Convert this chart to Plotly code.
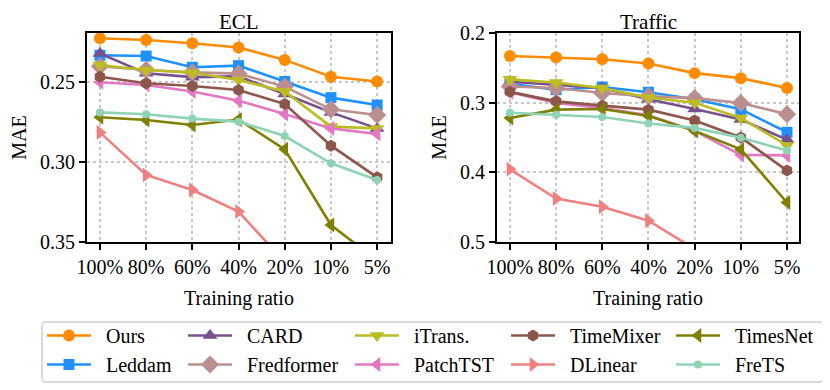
#!/usr/bin/env python3
# -*- coding: utf-8 -*-
"""
MAE vs training ratio on ECL and Traffic, two panels with a shared legend.
"""

import plotly.graph_objects as go

# Categories on the x axis
ratios = ["100%", "80%", "60%", "40%", "20%", "10%", "5%"]

# Series names, in plotting (and legend column) order
models = ["Ours", "Leddam", "CARD", "Fredformer", "iTrans.",
          "PatchTST", "TimeMixer", "DLinear", "TimesNet", "FreTS"]

# ECL - MAE
ecl_ours = [0.2227, 0.2238, 0.2258, 0.2285, 0.2362, 0.2467, 0.2497]
ecl_leddam = [0.2333, 0.2338, 0.2408, 0.2398, 0.2497, 0.2598, 0.2644]
ecl_card = [0.2322, 0.2446, 0.2470, 0.2465, 0.2575, 0.2690, 0.2790]
ecl_fredformer = [0.2402, 0.2425, 0.2440, 0.2448, 0.2529, 0.2671, 0.2706]
ecl_itrans = [0.2394, 0.2425, 0.2442, 0.2488, 0.2560, 0.2779, 0.2790]
ecl_patchtst = [0.2502, 0.2519, 0.2560, 0.2617, 0.2700, 0.2790, 0.2825]
ecl_timemixer = [0.2467, 0.2508, 0.2525, 0.2550, 0.2638, 0.2898, 0.3096]
ecl_dlinear = [0.2815, 0.3081, 0.3175, 0.3310, 0.3625, 0.3900, 0.4200]
ecl_timesnet = [0.2720, 0.2738, 0.2769, 0.2735, 0.2921, 0.3394, 0.3616]
ecl_frets = [0.2690, 0.2702, 0.2729, 0.2748, 0.2838, 0.3008, 0.3113]

# Traffic - MAE
traffic_ours = [0.2330, 0.2350, 0.2376, 0.2438, 0.2576, 0.2648, 0.2790]
traffic_leddam = [0.2730, 0.2814, 0.2775, 0.2850, 0.2950, 0.3095, 0.3425]
traffic_card = [0.2700, 0.2745, 0.2790, 0.2950, 0.3090, 0.3243, 0.3530]
traffic_fredformer = [0.2767, 0.2790, 0.2862, 0.2910, 0.2935, 0.3005, 0.3165]
traffic_itrans = [0.2665, 0.2710, 0.2790, 0.2925, 0.3000, 0.3219, 0.3614]
traffic_patchtst = [0.2850, 0.3005, 0.3076, 0.3180, 0.3405, 0.3750, 0.3757]
traffic_timemixer = [0.2845, 0.2981, 0.3043, 0.3100, 0.3255, 0.3500, 0.3975]
traffic_dlinear = [0.3957, 0.4376, 0.4495, 0.4695, 0.5100, 0.5500, 0.5800]
traffic_timesnet = [0.3219, 0.3100, 0.3090, 0.3190, 0.3405, 0.3671, 0.4433]
traffic_frets = [0.3145, 0.3175, 0.3205, 0.3300, 0.3362, 0.3505, 0.3685]

# Y ticks
ecl_ticks = [0.25, 0.30, 0.35]
traffic_ticks = [0.2, 0.3, 0.4, 0.5]

ECL = [ecl_ours, ecl_leddam, ecl_card, ecl_fredformer, ecl_itrans,
       ecl_patchtst, ecl_timemixer, ecl_dlinear, ecl_timesnet, ecl_frets]
TRAFFIC = [traffic_ours, traffic_leddam, traffic_card, traffic_fredformer,
           traffic_itrans, traffic_patchtst, traffic_timemixer,
           traffic_dlinear, traffic_timesnet, traffic_frets]

STYLE = {
    "Ours": ("#ff8c00", "circle", 12),
    "Leddam": ("#1e90ff", "square", 11),
    "CARD": ("#76508f", "triangle-up", 13),
    "Fredformer": ("#bc8f8f", "diamond", 14),
    "iTrans.": ("#bcbd22", "triangle-down", 13),
    "PatchTST": ("#e377c2", "triangle-left", 13),
    "TimeMixer": ("#8c564b", "hexagon", 12),
    "DLinear": ("#f08080", "triangle-right", 13),
    "TimesNet": ("#808000", "triangle-left", 13),
    "FreTS": ("#8fd3b5", "circle", 8),
}

FONT = "Liberation Serif"
# the html page puts the figure 8px in from the window corner
OFF = 8
W, H = 822, 382


def px_x(x):
    """window pixel -> paper fraction"""
    return (x - OFF) / W


def px_y(y):
    return 1 - (y - OFF) / H


def add_panel(fig, data, xa, ya, show):
    for i, (name, vals) in enumerate(zip(models, data)):
        color, symbol, size = STYLE[name]
        fig.add_trace(go.Scatter(
            # en space in front: wider gap between the legend line and its label
            x=ratios, y=vals, name="\u2002" + name, mode="lines+markers",
            xaxis=xa, yaxis=ya,
            line=dict(color=color, width=2.6),
            marker=dict(symbol=symbol, size=size, color=color, line=dict(width=0)),
            legend="legend" if i // 2 == 0 else f"legend{i // 2 + 1}",
            showlegend=show,
        ))


def axis_common():
    return dict(
        showline=True, linecolor="black", linewidth=2, mirror=True,
        ticks="outside", ticklen=6, tickwidth=1.5, tickcolor="black",
        showgrid=True, gridcolor="#c8c8c8", griddash="dot", gridwidth=1.5,
        zeroline=False, automargin=False,
        tickfont=dict(family=FONT, size=20, color="black"),
    )


def main():
    fig = go.Figure()
    add_panel(fig, ECL, "x", "y", True)
    add_panel(fig, TRAFFIC, "x2", "y2", False)

    ydom = [px_y(242), px_y(33)]
    title_font = dict(family=FONT, size=20, color="black")
    xaxis = axis_common()
    xaxis.update(domain=[px_x(87), px_x(391)], range=[-0.28, 6.3], anchor="y",
                 title=dict(text="Training ratio", font=title_font, standoff=14))
    xaxis2 = axis_common()
    xaxis2.update(domain=[px_x(497), px_x(799)], range=[-0.28, 6.26], anchor="y2",
                  title=dict(text="Training ratio", font=title_font, standoff=14))
    yaxis = axis_common()
    yaxis.update(domain=ydom, range=[0.35, 0.2194], anchor="x",
                 tickvals=ecl_ticks, tickformat=".2f",
                 title=dict(text="MAE", font=title_font, standoff=8))
    yaxis2 = axis_common()
    yaxis2.update(domain=ydom, range=[0.5, 0.2], anchor="x2",
                  tickvals=traffic_ticks, tickformat=".1f",
                  title=dict(text="MAE", font=title_font, standoff=8))

    # Legend: one legend per column so the columns sit where they should
    col_x = [42, 183, 350, 506, 671]
    legends = {}
    for k, x in enumerate(col_x):
        key = "legend" if k == 0 else f"legend{k + 1}"
        legends[key] = dict(
            x=px_x(x), y=px_y(316), xanchor="left", yanchor="top",
            orientation="v", bgcolor="rgba(0,0,0,0)", borderwidth=0,
            tracegroupgap=0, itemwidth=44,
            font=dict(family=FONT, size=20, color="black"),
        )

    # Rounded legend frame
    x0, x1, y0, y1 = px_x(42), px_x(823), px_y(382), px_y(322)
    rx, ry = 4 / W, 4 / H
    frame = (f"M {x0 + rx},{y1} L {x1 - rx},{y1} Q {x1},{y1} {x1},{y1 - ry} "
             f"L {x1},{y0 + ry} Q {x1},{y0} {x1 - rx},{y0} L {x0 + rx},{y0} "
             f"Q {x0},{y0} {x0},{y0 + ry} L {x0},{y1 - ry} Q {x0},{y1} {x0 + rx},{y1} Z")

    fig.update_layout(
        width=W, height=H,
        margin=dict(l=0, r=0, t=0, b=0),
        paper_bgcolor="white", plot_bgcolor="white",
        font=dict(family=FONT, size=20, color="black"),
        xaxis=xaxis, xaxis2=xaxis2, yaxis=yaxis, yaxis2=yaxis2,
        shapes=[dict(type="path", path=frame, xref="paper", yref="paper",
                     line=dict(color="#d0d0d0", width=1.5),
                     fillcolor="rgba(255,255,255,0.8)", layer="below")],
        annotations=[
            dict(text="ECL", x=(px_x(87) + px_x(391)) / 2, y=1,
                 xref="paper", yref="paper", showarrow=False,
                 xanchor="center", yanchor="top",
                 font=dict(family=FONT, size=21, color="black")),
            dict(text="Traffic", x=(px_x(497) + px_x(799)) / 2, y=1,
                 xref="paper", yref="paper", showarrow=False,
                 xanchor="center", yanchor="top",
                 font=dict(family=FONT, size=21, color="black")),
        ],
        **legends,
    )

    fig.write_html("out.html")


if __name__ == "__main__":
    main()
